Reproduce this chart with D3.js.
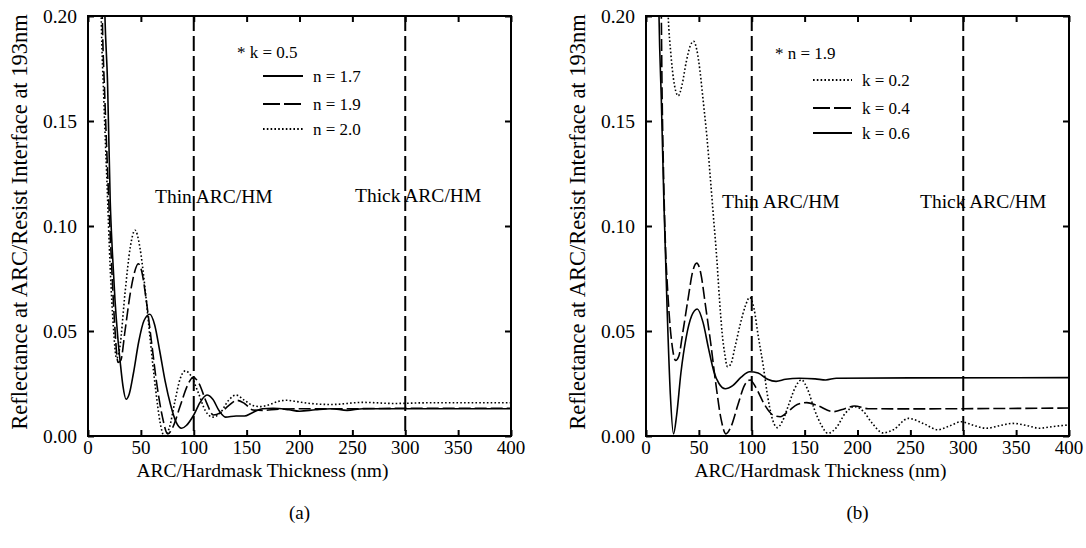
<!DOCTYPE html>
<html>
<head>
<meta charset="utf-8">
<script src="https://cdnjs.cloudflare.com/ajax/libs/d3/7.8.5/d3.min.js"></script>
<style>
  body { margin: 0; background: #fff; }
  svg { display: block; font-family: "Liberation Serif", "Times New Roman", serif; }
</style>
</head>
<body>
<svg id="chart" width="1086" height="548"></svg>
<script>
// tick values
const xTicks = [0, 50, 100, 150, 200, 250, 300, 350, 400];
const yTicks = [0, 0.05, 0.10, 0.15, 0.20];
const regionLines = [100, 300];

// (a) k = 0.5, thickness (nm) / reflectance pairs
const aN17 = [[14,0.25],[16,0.2],[18.5,0.168],[21,0.112],[23,0.088],[25.5,0.065],[28,0.048],[30.5,0.035],[33,0.024],[36,0.0175],[39,0.02],[43,0.03],[48,0.045],[53,0.055],[58.5,0.058],[63,0.053],[68,0.04],[73,0.026],[78,0.015],[83,0.007],[88.5,0.0037],[93,0.005],[100,0.01],[106,0.016],[112.5,0.0195],[118,0.0175],[124,0.012],[130,0.009],[140,0.0095],[148,0.0095],[155,0.011],[165,0.013],[175,0.0132],[190,0.0125],[200,0.0118],[215,0.0125],[230,0.013],[245,0.0122],[260,0.013],[300,0.013],[350,0.013],[400,0.013]];
const aN19 = [[12,0.25],[13.5,0.2],[16,0.16],[19,0.12],[22,0.085],[25,0.055],[28.5,0.035],[31,0.036],[35,0.05],[40,0.068],[44,0.078],[47.5,0.082],[51,0.078],[55,0.065],[60,0.045],[65,0.025],[70,0.01],[75.5,0.001],[80,0.004],[87,0.014],[94,0.024],[99.5,0.028],[105,0.025],[112,0.016],[118.5,0.01],[125,0.011],[133,0.0145],[141,0.017],[148,0.0155],[156,0.0124],[165,0.0122],[180,0.0128],[200,0.013],[250,0.013],[300,0.0132],[400,0.0132]];
const aN20 = [[11,0.25],[12.5,0.2],[15,0.16],[18,0.12],[21,0.08],[24,0.052],[27,0.037],[30,0.042],[35,0.068],[40,0.09],[44.5,0.098],[49,0.09],[54,0.07],[59,0.045],[64,0.022],[68,0.007],[72,0.0],[77,0.004],[82,0.016],[87,0.027],[92,0.031],[97,0.029],[104,0.021],[111,0.012],[118,0.009],[125,0.011],[133,0.017],[140,0.0195],[148,0.017],[156,0.0145],[163,0.014],[172,0.015],[180,0.0165],[188,0.017],[196,0.0165],[210,0.0155],[230,0.015],[260,0.016],[290,0.0155],[320,0.0158],[360,0.0158],[400,0.0158]];

// (b) n = 1.9
const bK02 = [[19,0.23],[21,0.2],[23.5,0.182],[26,0.17],[30.5,0.162],[34,0.167],[38,0.178],[42,0.186],[45,0.188],[48,0.184],[51,0.174],[54,0.16],[57.5,0.143],[60.5,0.125],[64,0.103],[67,0.084],[69.5,0.065],[72,0.049],[74.5,0.039],[77,0.033],[80,0.034],[84,0.042],[89,0.053],[94,0.062],[98,0.066],[102,0.061],[106,0.048],[111,0.033],[115,0.019],[119,0.009],[124,0.004],[129,0.007],[135,0.015],[141,0.023],[147,0.0267],[153,0.022],[159,0.013],[166,0.005],[172,0.0013],[180,0.004],[188,0.0105],[197,0.014],[205,0.012],[214,0.006],[224,0.0015],[234,0.003],[248,0.0084],[262,0.006],[276,0.003],[288,0.005],[298,0.0068],[310,0.005],[322,0.0037],[335,0.005],[347,0.006],[360,0.005],[372,0.0037],[385,0.0045],[400,0.0053]];
const bK04 = [[13,0.25],[14.5,0.2],[15,0.173],[16.5,0.127],[18,0.097],[21,0.065],[25,0.042],[28,0.036],[31,0.038],[35,0.05],[40,0.066],[44,0.078],[48,0.0823],[52,0.077],[56,0.063],[61,0.045],[66,0.025],[71,0.008],[75.5,0.001],[80,0.004],[87,0.015],[93,0.024],[98.5,0.0267],[104,0.023],[112,0.015],[120,0.01],[127,0.0092],[135,0.012],[143,0.015],[152,0.0159],[162,0.0145],[177,0.0116],[188,0.013],[197,0.0143],[210,0.013],[250,0.0129],[300,0.013],[400,0.0133]];
const bK06 = [[11,0.25],[12.3,0.2],[14.5,0.16],[17,0.11],[20,0.06],[23,0.02],[26,0.001],[29,0.01],[33,0.03],[38,0.047],[43,0.057],[48.5,0.0605],[54,0.054],[59,0.042],[64,0.031],[69,0.025],[75,0.0225],[82,0.024],[90,0.028],[98,0.0306],[106,0.03],[115,0.027],[123,0.026],[132,0.027],[145,0.0275],[160,0.0272],[170,0.0267],[180,0.0275],[250,0.0277],[400,0.0278]];

const styles = {
  solid: null,
  dashed: "12,4",
  dotted: "1.6,2.2"
};

const svg = d3.select("#chart");

const drawPanel = (p) => {
  const x = d3.scaleLinear().domain([0, 400]).range([p.left, p.right]);
  const y = d3.scaleLinear().domain([0, 0.2]).range([436, 16]);
  const g = svg.append("g");

  const clipId = "clip-" + p.id;
  g.append("clipPath").attr("id", clipId)
    .append("rect")
    .attr("x", p.left).attr("y", 16)
    .attr("width", p.right - p.left).attr("height", 420);

  // region separators
  g.selectAll(".region")
    .data(regionLines)
    .enter()
    .append("line")
    .attr("x1", d => x(d)).attr("x2", d => x(d))
    .attr("y1", 16).attr("y2", 436)
    .attr("stroke", "#000").attr("stroke-width", 2)
    .attr("stroke-dasharray", "15,5");

  // curves
  const line = d3.line()
    .x(d => x(d[0]))
    .y(d => y(d[1]))
    .curve(d3.curveMonotoneX);

  g.append("g").attr("clip-path", "url(#" + clipId + ")")
    .selectAll("path")
    .data(p.series)
    .enter()
    .append("path")
    .attr("d", s => line(s.data))
    .attr("fill", "none")
    .attr("stroke", "#000")
    .attr("stroke-width", 1.6)
    .attr("stroke-dasharray", s => styles[s.style]);

  // frame with inward ticks
  const ax = (gen, tx) => g.append("g").attr("transform", tx).call(gen)
    .call(a => a.select(".domain").remove())
    .call(a => a.selectAll("line").attr("stroke-width", 2))
    .call(a => a.selectAll("text").remove());

  ax(d3.axisBottom(x).tickValues(xTicks).tickSize(-6), "translate(0,436)");
  ax(d3.axisTop(x).tickValues(xTicks).tickSize(-6), "translate(0,16)");
  ax(d3.axisLeft(y).tickValues(yTicks).tickSize(-6), "translate(" + p.left + ",0)");
  ax(d3.axisRight(y).tickValues(yTicks).tickSize(-6), "translate(" + p.right + ",0)");

  g.append("rect")
    .attr("x", p.left).attr("y", 16)
    .attr("width", p.right - p.left).attr("height", 420)
    .attr("fill", "none").attr("stroke", "#000").attr("stroke-width", 2);

  // tick labels
  g.selectAll(".xl")
    .data(xTicks)
    .enter()
    .append("text")
    .attr("x", d => x(d)).attr("y", 454)
    .attr("text-anchor", "middle")
    .attr("font-size", 19)
    .text(d => d);

  g.selectAll(".yl")
    .data(yTicks)
    .enter()
    .append("text")
    .attr("x", p.left - 11).attr("y", d => y(d) + 6.5)
    .attr("text-anchor", "end")
    .attr("font-size", 19.5)
    .text(d => d3.format(".2f")(d));

  // axis titles
  g.append("text")
    .attr("x", (p.left + p.right) / 2 - 37).attr("y", 476.5)
    .attr("text-anchor", "middle")
    .attr("font-size", 19.5)
    .text("ARC/Hardmask Thickness (nm)");

  g.append("text")
    .attr("transform", "translate(" + (p.left - 61) + ",222) rotate(-90)")
    .attr("text-anchor", "middle")
    .attr("font-size", 22.5)
    .text("Reflectance at ARC/Resist Interface at 193nm");

  g.append("text")
    .attr("x", (p.left + p.right) / 2).attr("y", 519)
    .attr("text-anchor", "middle")
    .attr("font-size", 19)
    .text(p.tag);

  // region labels
  p.regions.forEach(r => {
    g.append("text")
      .attr("x", r.x).attr("y", r.y)
      .attr("font-size", 19.5)
      .text(r.label);
  });

  // legend
  const lg = p.legend;
  g.append("text")
    .attr("x", lg.titleX).attr("y", lg.titleY)
    .attr("font-size", 17)
    .text(lg.title);

  const rows = g.selectAll(".lg")
    .data(lg.order)
    .enter()
    .append("g");
  rows.append("line")
    .attr("x1", lg.x1).attr("x2", lg.x2)
    .attr("y1", (d, i) => lg.rowY[i]).attr("y2", (d, i) => lg.rowY[i])
    .attr("stroke", "#000").attr("stroke-width", 2)
    .attr("stroke-dasharray", s => s.style === "dashed" ? "17,4" : styles[s.style]);
  rows.append("text")
    .attr("x", lg.x2 + 10).attr("y", (d, i) => lg.rowY[i] + 6)
    .attr("font-size", 17)
    .text(s => s.name);
};

drawPanel({
  id: "a", left: 88, right: 511, tag: "(a)",
  series: [
    { name: "n = 1.7", style: "solid", data: aN17 },
    { name: "n = 1.9", style: "dashed", data: aN19 },
    { name: "n = 2.0", style: "dotted", data: aN20 }
  ],
  regions: [
    { label: "Thin ARC/HM", x: 155, y: 203 },
    { label: "Thick ARC/HM", x: 355, y: 202 }
  ],
  legend: {
    title: "* k = 0.5", titleX: 237, titleY: 58,
    x1: 263, x2: 303, rowY: [76, 104, 129],
    order: [
      { name: "n = 1.7", style: "solid" },
      { name: "n = 1.9", style: "dashed" },
      { name: "n = 2.0", style: "dotted" }
    ]
  }
});

drawPanel({
  id: "b", left: 646, right: 1069, tag: "(b)",
  series: [
    { name: "k = 0.2", style: "dotted", data: bK02 },
    { name: "k = 0.4", style: "dashed", data: bK04 },
    { name: "k = 0.6", style: "solid", data: bK06 }
  ],
  regions: [
    { label: "Thin ARC/HM", x: 722, y: 208 },
    { label: "Thick ARC/HM", x: 920, y: 208 }
  ],
  legend: {
    title: "* n = 1.9", titleX: 775, titleY: 59,
    x1: 813, x2: 852, rowY: [80, 108, 133],
    order: [
      { name: "k = 0.2", style: "dotted" },
      { name: "k = 0.4", style: "dashed" },
      { name: "k = 0.6", style: "solid" }
    ]
  }
});
</script>
</body>
</html>
